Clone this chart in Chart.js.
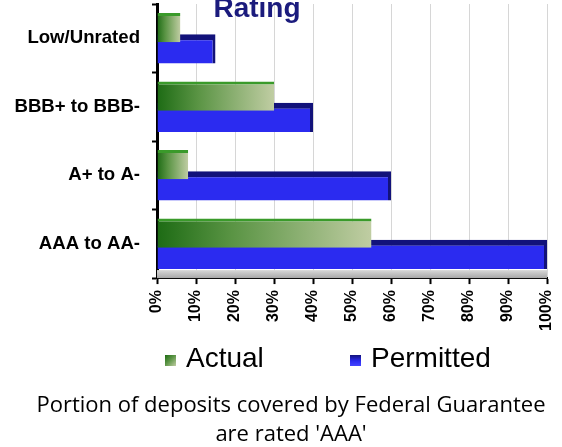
<!DOCTYPE html>
<html>
<head>
<meta charset="utf-8">
<script src="https://cdn.jsdelivr.net/npm/chart.js@4.4.1/dist/chart.umd.min.js"></script>
<style>
  body { margin: 0; background: #fff; }
  .wrap { position: relative; width: 562px; height: 447px; overflow: hidden; }
  #ratingChart { position: absolute; left: 0; top: 0; }
  .legend-item { position: absolute; top: 342px; height: 32px; line-height: 32px;
    font: 28px "Liberation Sans", Arial, sans-serif; color: #000; white-space: nowrap; }
  .legend-item .box { display: inline-block; width: 11px; height: 11px; margin-right: 10px; vertical-align: 1px; }
  .box.actual { background: linear-gradient(135deg, #1d6b14, #5a9444 45%, #c0cda3); }
  .box.permitted { background: linear-gradient(180deg, #12127a, #2b2bf0 55%, #4545ff); }
  .caption { position: absolute; left: 20px; width: 542px; top: 389px; text-align: center;
    font: 22px "Open Sans", sans-serif; line-height: 29px; color: #000; }
</style>
</head>
<body>
<div class="wrap">
  <canvas id="ratingChart" width="562" height="447"></canvas>
  <div class="legend-item" style="left:165px"><span class="box actual"></span>Actual</div>
  <div class="legend-item" style="left:350px"><span class="box permitted"></span>Permitted</div>
  <div class="caption">Portion of deposits covered by Federal Guarantee<br>are rated 'AAA'</div>
</div>
<script>
// Datos del gráfico
const titleText = "Rating";
const categories = ["Low/Unrated", "BBB+ to BBB-", "A+ to A-", "AAA to AA-"];
const actualValues = [6, 30, 8, 55];
const permittedValues = [15, 40, 60, 100];
const xTickLabels = ["0%", "10%", "20%", "30%", "40%", "50%", "60%", "70%", "80%", "90%", "100%"];

const labelFont = '"Liberation Sans", Arial, sans-serif';

// Degradado horizontal para las barras verdes (oscuro a claro)
function greenFill(context) {
  const chart = context.chart;
  if (!chart.chartArea || context.type !== "data") return "#4f8f36";
  const x = chart.scales.x;
  const x0 = x.getPixelForValue(0);
  const x1 = x.getPixelForValue(context.raw);
  const g = chart.ctx.createLinearGradient(x0, 0, x1, 0);
  g.addColorStop(0, "#1d6b14");
  g.addColorStop(0.35, "#5a9444");
  g.addColorStop(1, "#c0cda3");
  return g;
}

// Título "Rating" (recortado arriba como en el original)
const ratingTitle = {
  id: "ratingTitle",
  afterDraw(chart) {
    const ctx = chart.ctx;
    ctx.save();
    ctx.font = "bold 28px " + labelFont;
    ctx.fillStyle = "#1b1b7d";
    ctx.textAlign = "center";
    ctx.textBaseline = "alphabetic";
    ctx.fillText(titleText, 257, 17);
    ctx.restore();
  },
};

// Suelo gris bajo las barras
const floorPlugin = {
  id: "floorPlugin",
  beforeDatasetsDraw(chart) {
    const { ctx, chartArea } = chart;
    const g = ctx.createLinearGradient(0, chartArea.bottom - 8, 0, chartArea.bottom);
    g.addColorStop(0, "#d8d8d8");
    g.addColorStop(1, "#a8a8a8");
    ctx.save();
    ctx.fillStyle = g;
    ctx.fillRect(chartArea.left, chartArea.bottom - 8, chartArea.right - chartArea.left, 8);
    ctx.restore();
  },
};

const ctx = document.getElementById("ratingChart").getContext("2d");
new Chart(ctx, {
  type: "bar",
  data: {
    labels: categories,
    datasets: [
      {
        label: "Actual",
        data: actualValues,
        backgroundColor: greenFill,
        borderColor: "#3a9a2a",
        borderWidth: { top: 3, right: 0, bottom: 0, left: 0 },
        barPercentage: 1.38,
        categoryPercentage: 0.62,
      },
      {
        label: "Permitted",
        data: permittedValues,
        backgroundColor: "#2b2bf0",
        borderColor: "#12127a",
        borderWidth: { top: 6, right: 3, bottom: 0, left: 0 },
        barPercentage: 1.38,
        categoryPercentage: 0.62,
      },
    ],
  },
  options: {
    indexAxis: "y",
    responsive: false,
    animation: false,
    layout: { padding: { top: 4, right: 15, bottom: 110, left: 0 } },
    scales: {
      x: {
        min: 0,
        max: 100,
        afterFit(scale) {
          // sin margen extra por las etiquetas giradas
          scale.paddingLeft = 0;
          scale.paddingRight = 0;
        },
        ticks: {
          stepSize: 10,
          minRotation: 90,
          maxRotation: 90,
          padding: 6,
          color: "#000",
          font: { family: labelFont, size: 16, weight: "bold" },
          callback: (v, i) => xTickLabels[i],
        },
        grid: { color: "#d6d6d6", tickColor: "#000", tickLength: 6, tickWidth: 2 },
        border: { color: "#000", width: 2 },
      },
      y: {
        afterFit(scale) {
          scale.width = 157;
          scale.paddingTop = 0;
          scale.paddingBottom = 0;
        },
        ticks: {
          padding: 12,
          color: "#000",
          font: { family: labelFont, size: 18.6, weight: "bold" },
        },
        grid: { drawOnChartArea: false, tickLength: 5, tickColor: "#000", tickWidth: 2 },
        border: { color: "#000", width: 3 },
      },
    },
    plugins: {
      legend: { display: false },
      tooltip: { enabled: false },
    },
  },
  plugins: [floorPlugin, ratingTitle],
});
</script>
</body>
</html>
